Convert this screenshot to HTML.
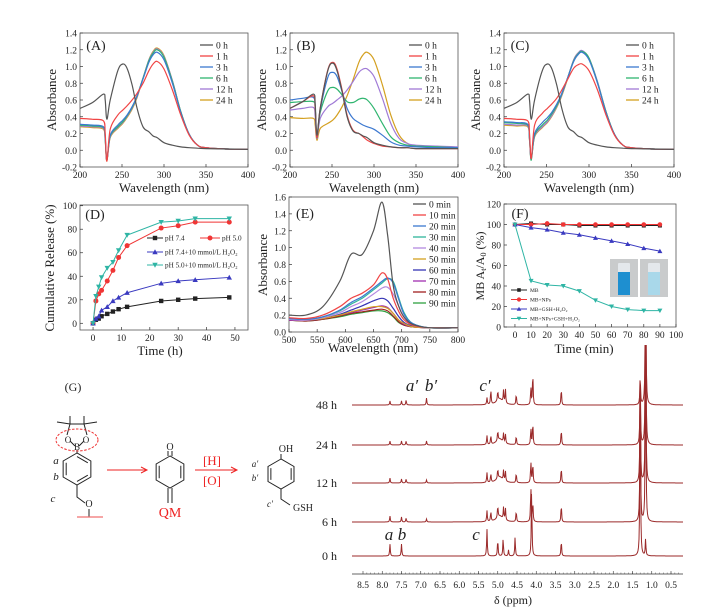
<!DOCTYPE html>
<html><head><meta charset="utf-8"><style>
html,body{margin:0;padding:0;background:#fff;}
svg{display:block;font-family:"Liberation Serif",serif;}
</style></head><body>
<svg id="fig" width="723" height="616" viewBox="0 0 723 616"></svg>
<script>
// ---- Panel A/B/C data ----
const wlABC=[200,215,228,230,232,236,245,251,256,262,268,275,282,287,292,300,310,320,330,340,350,375,400];
const seriesLabelsABC=['0 h','1 h','3 h','6 h','12 h','24 h'];
const colorsABC=['#555555','#f04545','#3c78d0','#2fb56f','#a07ad6','#d4a020'];
const absA0=[0.50,0.57,0.67,0.60,0.37,0.60,0.95,1.03,0.98,0.78,0.50,0.28,0.22,0.17,0.15,0.09,0.06,0.04,0.03,0.025,0.02,0.015,0.01];
const absA1=[0.38,0.37,0.35,0.2,-0.13,0.25,0.42,0.48,0.53,0.6,0.68,0.8,0.95,1.03,1.06,0.97,0.72,0.42,0.18,0.06,0.03,0.015,0.01];
const absA3=[0.31,0.3,0.28,0.15,-0.12,0.18,0.3,0.36,0.42,0.52,0.65,0.85,1.05,1.14,1.17,1.08,0.8,0.45,0.19,0.06,0.03,0.015,0.01];
const absA6=[0.3,0.29,0.27,0.14,-0.12,0.17,0.28,0.34,0.41,0.51,0.65,0.86,1.07,1.16,1.2,1.11,0.82,0.46,0.19,0.06,0.03,0.015,0.01];
const absA12=[0.29,0.28,0.26,0.13,-0.12,0.16,0.27,0.33,0.4,0.5,0.64,0.86,1.08,1.17,1.21,1.12,0.83,0.46,0.19,0.06,0.03,0.015,0.01];
const absA24=[0.28,0.27,0.25,0.12,-0.13,0.15,0.26,0.32,0.39,0.49,0.63,0.86,1.08,1.18,1.22,1.13,0.83,0.46,0.19,0.06,0.03,0.015,0.01];
const absB0=[0.5,0.58,0.67,0.55,0.18,0.5,0.95,1.04,0.95,0.7,0.4,0.23,0.2,0.17,0.15,0.09,0.06,0.04,0.03,0.03,0.02,0.02,0.02];
const absB1=[0.5,0.58,0.65,0.5,0.15,0.5,0.96,1.05,0.97,0.72,0.42,0.24,0.2,0.16,0.12,0.08,0.05,0.04,0.03,0.03,0.02,0.02,0.02];
const absB3=[0.6,0.62,0.63,0.5,0.15,0.48,0.87,0.93,0.88,0.7,0.5,0.38,0.33,0.3,0.28,0.25,0.18,0.1,0.06,0.05,0.04,0.03,0.03];
const absB6=[0.57,0.58,0.58,0.5,0.15,0.45,0.71,0.75,0.73,0.66,0.58,0.57,0.61,0.62,0.6,0.5,0.32,0.16,0.09,0.06,0.05,0.04,0.03];
const absB12=[0.48,0.5,0.51,0.4,0.14,0.38,0.52,0.56,0.6,0.65,0.72,0.82,0.93,0.97,0.97,0.88,0.62,0.32,0.14,0.08,0.06,0.05,0.04];
const absB24=[0.39,0.38,0.38,0.3,0.12,0.26,0.32,0.36,0.42,0.52,0.65,0.84,1.05,1.14,1.17,1.08,0.78,0.42,0.18,0.08,0.05,0.04,0.03];
const absC0=[0.50,0.57,0.67,0.60,0.37,0.60,0.95,1.03,0.98,0.78,0.50,0.28,0.22,0.17,0.15,0.09,0.06,0.04,0.03,0.025,0.02,0.015,0.01];
const absC1=[0.38,0.37,0.35,0.2,-0.1,0.3,0.44,0.5,0.55,0.62,0.72,0.85,0.98,1.02,1.03,0.95,0.72,0.42,0.18,0.06,0.03,0.015,0.01];
const absC3=[0.34,0.33,0.31,0.15,-0.1,0.2,0.33,0.39,0.45,0.55,0.68,0.87,1.06,1.14,1.17,1.08,0.8,0.45,0.19,0.06,0.03,0.015,0.01];
const absC6=[0.33,0.32,0.3,0.14,-0.12,0.18,0.3,0.36,0.43,0.53,0.67,0.87,1.07,1.15,1.18,1.1,0.81,0.46,0.19,0.06,0.03,0.015,0.01];
const absC12=[0.31,0.3,0.29,0.13,-0.1,0.17,0.28,0.34,0.41,0.52,0.66,0.87,1.08,1.16,1.19,1.1,0.82,0.46,0.19,0.06,0.03,0.015,0.01];
const absC24=[0.3,0.29,0.28,0.12,-0.1,0.16,0.27,0.33,0.4,0.51,0.65,0.86,1.08,1.16,1.18,1.1,0.81,0.46,0.19,0.06,0.03,0.015,0.01];
// ---- Panel D data ----
const timeD=[0,1,2,3,5,7,9,12,24,30,36,48];
const labelsD=['pH 7.4','pH 5.0','pH 7.4+10 mmol/L H₂O₂','pH 5.0+10 mmol/L H₂O₂'];
const relPH74=[0,3,4,6,8,10,12,14,19,20,21,22];
const relPH50=[0,19,25,28,36,45,56,66,81,83,86,86];
const relPH74H=[0,4,6,11,14,19,22,26,34,36,37,39];
const relPH50H=[0,23,31,39,47,52,62,75,86,87,89,89];
// ---- Panel E data ----
const wlE=[500,530,560,590,610,630,650,665,675,685,695,705,720,750,800];
const labelsE=['0 min','10 min','20 min','30 min','40 min','50 min','60 min','70 min','80 min','90 min'];
const colorsE=['#555555','#f04545','#3c78d0','#2fb59a','#b48ae0','#d4a020','#3535b5','#a030b0','#a02020','#30a040'];
const absE0=[0.2,0.2,0.3,0.6,0.92,0.92,1.2,1.54,1.15,0.55,0.3,0.17,0.09,0.05,0.05];
const absE10=[0.17,0.16,0.2,0.3,0.4,0.46,0.56,0.7,0.63,0.4,0.24,0.14,0.08,0.05,0.05];
const absE20=[0.16,0.15,0.18,0.26,0.35,0.42,0.52,0.6,0.64,0.58,0.38,0.2,0.1,0.05,0.05];
const absE30=[0.16,0.15,0.18,0.25,0.33,0.4,0.5,0.58,0.63,0.6,0.4,0.22,0.1,0.05,0.05];
const absE40=[0.15,0.14,0.17,0.23,0.3,0.36,0.45,0.52,0.53,0.45,0.3,0.17,0.08,0.05,0.05];
const absE50=[0.15,0.14,0.16,0.2,0.24,0.27,0.3,0.3,0.28,0.22,0.14,0.1,0.06,0.05,0.05];
const absE60=[0.15,0.14,0.16,0.21,0.26,0.31,0.37,0.4,0.37,0.28,0.18,0.11,0.07,0.05,0.05];
const absE70=[0.14,0.14,0.16,0.2,0.23,0.26,0.29,0.31,0.29,0.22,0.14,0.09,0.06,0.05,0.05];
const absE80=[0.14,0.13,0.15,0.19,0.22,0.24,0.26,0.27,0.25,0.19,0.12,0.08,0.06,0.05,0.05];
const absE90=[0.14,0.13,0.15,0.18,0.21,0.23,0.25,0.25,0.23,0.18,0.11,0.08,0.06,0.05,0.05];
// ---- Panel F data ----
const timeF=[0,10,20,30,40,50,60,70,80,90];
const labelsF=['MB','MB+NPs','MB+GSH+H₂O₂','MB+NPs+GSH+H₂O₂'];
const ratioMB=[100,101,100,100,99,99,99,99,99,99];
const ratioMBNP=[100,100,101,100,100,100,100,100,100,100];
const ratioMBGSH=[100,97,95,92,90,87,84,81,77,74];
const ratioMBNPGSH=[100,45,41,40,35,26,20,17,16,16];
// ---- NMR data ----
const nmrTimes=['0 h','6 h','12 h','24 h','48 h'];
const shifts0=[7.8,7.5,5.28,5.0,4.86,4.72,4.55,4.12,3.35,1.3,1.16];
const heights0=[12,12,27,17,18,6,19,69,16,180,17];
const shiftsT=[7.8,7.5,7.38,6.85,5.28,5.18,5.0,4.85,4.8,4.52,4.14,4.09,3.35,1.3,1.16];
const heights6=[6,5,4,3,11,10,12,12,12,11,36,20,18,140,200];
const heights12=[5,4,4,3,10,9,10,10,10,10,22,20,16,110,200];
const heights24=[4,4,4,4,9,9,10,9,9,9,17,23,16,70,200];
const heights48=[4,4,5,7,7,15,10,12,14,11,18,33,17,30,200];
const ppmTicks=[8.5,8.0,7.5,7.0,6.5,6.0,5.5,5.0,4.5,4.0,3.5,3.0,2.5,2.0,1.5,1.0,0.5];

const NS='http://www.w3.org/2000/svg';
const svg=document.getElementById('fig');
function mk(tag,attrs,parent){const e=document.createElementNS(NS,tag);for(const k in attrs)e.setAttribute(k,attrs[k]);(parent||svg).appendChild(e);return e;}
function txt(s,x,y,size,anchor,extra){const e=mk('text',Object.assign({x:x,y:y,'font-size':size,'text-anchor':anchor||'start',fill:'#222'},extra||{}));e.textContent=s;return e;}
function smooth(pts){let d='M'+pts[0][0].toFixed(1)+','+pts[0][1].toFixed(1);for(let i=0;i<pts.length-1;i++){const p0=pts[Math.max(i-1,0)],p1=pts[i],p2=pts[i+1],p3=pts[Math.min(i+2,pts.length-1)];const c1x=p1[0]+(p2[0]-p0[0])/6,c1y=p1[1]+(p2[1]-p0[1])/6,c2x=p2[0]-(p3[0]-p1[0])/6,c2y=p2[1]-(p3[1]-p1[1])/6;d+=' C'+c1x.toFixed(1)+','+c1y.toFixed(1)+' '+c2x.toFixed(1)+','+c2y.toFixed(1)+' '+p2[0].toFixed(1)+','+p2[1].toFixed(1);}return d;}
function axes(o){
  const sx=v=>o.x0+(v-o.xmin)/(o.xmax-o.xmin)*(o.x1-o.x0);
  const sy=v=>o.y1-(v-o.ymin)/(o.ymax-o.ymin)*(o.y1-o.y0);
  const box=mk('rect',{x:o.x0,y:o.y0,width:o.x1-o.x0,height:o.y1-o.y0,fill:'none',stroke:'#555','stroke-width':0.8});
  
  
  o.xt.forEach(v=>{const x=sx(v);mk('line',{x1:x,x2:x,y1:o.y1,y2:o.y1-3,stroke:'#333','stroke-width':0.7});
    const t=txt(o.xf?o.xf(v):String(v),x,o.y1+11,o.fs||9.5,'middle');
    
    });
  o.yt.forEach(v=>{const y=sy(v);mk('line',{x1:o.x0,x2:o.x0+3,y1:y,y2:y,stroke:'#333','stroke-width':0.7});
    const t=txt(o.yf?o.yf(v):String(v),o.x0-3,y+3.5,9.5,'end');
    
    });
  return {sx,sy};
}
function title(s,x,y,size,rot,name){const t=txt(s,x,y,size,'middle',rot?{transform:'rotate(-90 '+x+' '+y+')'}:{});
  
  return t;}

// ---------- Panels A,B,C ----------
const abcSets=[
 {name:'panel-a',lab:'(A)',x0:80,x1:248,lx:200,data:[absA0,absA1,absA3,absA6,absA12,absA24]},
 {name:'panel-b',lab:'(B)',x0:290,x1:458,lx:409,data:[absB0,absB1,absB3,absB6,absB12,absB24]},
 {name:'panel-c',lab:'(C)',x0:504,x1:674,lx:626,data:[absC0,absC1,absC3,absC6,absC12,absC24]}];
abcSets.forEach(P=>{
  const {sx,sy}=axes({name:P.name,x0:P.x0,x1:P.x1,y0:33,y1:167,xmin:200,xmax:400,ymin:-0.2,ymax:1.4,xt:[200,250,300,350,400],yt:[-0.2,0,0.2,0.4,0.6,0.8,1.0,1.2,1.4],yf:v=>v.toFixed(1)});
  [5,4,3,2,1,0].forEach(i=>{const pts=wlABC.map((w,k)=>[sx(w),sy(P.data[i][k])]);
    const p=mk('path',{d:smooth(pts),fill:'none',stroke:colorsABC[i],'stroke-width':1.2});
    
    });
  seriesLabelsABC.forEach((s,i)=>{const y=45+i*11;mk('line',{x1:P.lx,x2:P.lx+13,y1:y,y2:y,stroke:colorsABC[i],'stroke-width':1.3});
    const t=txt(s,P.lx+16,y+3.5,9.5,'start');
    
    });
  title(P.lab,P.x0+16,50,14,false,P.name+'-label');
  title('Wavelength (nm)',(P.x0+P.x1)/2,192,13,false,P.name+'-x-axis-title');
  title('Absorbance',P.x0-24,100,13,true,P.name+'-y-axis-title');
});

function marker(kind,x,y,c,r){r=r||2.2;
  if(kind==='sq')return mk('rect',{x:x-r,y:y-r,width:2*r,height:2*r,fill:c});
  if(kind==='ci')return mk('circle',{cx:x,cy:y,r:r+0.3,fill:c});
  if(kind==='tu')return mk('path',{d:`M${x},${y-r-0.5}L${x+r+0.5},${y+r}L${x-r-0.5},${y+r}Z`,fill:c});
  return mk('path',{d:`M${x},${y+r+0.5}L${x+r+0.5},${y-r}L${x-r-0.5},${y-r}Z`,fill:c});}

// ---------- Panel D ----------
(function(){
  const {sx,sy}=axes({name:'panel-d',x0:80,x1:248,y0:205,y1:330,xmin:-4.6,xmax:54.6,ymin:-5.7,ymax:100.6,xt:[0,10,20,30,40,50],yt:[0,20,40,60,80,100]});
  const sets=[[relPH74,'#222','sq'],[relPH50,'#f03535','ci'],[relPH74H,'#3a3ac0','tu'],[relPH50H,'#2fb5a5','td']];
  sets.forEach((S,si)=>{const pts=timeD.map((t,k)=>[sx(t),sy(S[0][k])]);
    const l=mk('polyline',{points:pts.map(p=>p.join(',')).join(' '),fill:'none',stroke:S[1],'stroke-width':1});
    
    
    pts.forEach(p=>{const m=marker(S[2],p[0],p[1],S[1]);
      
      });});
  const leg=[[147,238,0,16],[200,238,1,20],[147,252,2,16],[147,265,3,16]];
  leg.forEach(L=>{const S=sets[L[2]];const w=L[3];mk('line',{x1:L[0],x2:L[0]+w,y1:L[1],y2:L[1],stroke:S[1],'stroke-width':1});marker(S[2],L[0]+w/2,L[1],S[1]);
    const t=txt(labelsD[L[2]],L[0]+w+2,L[1]+2.5,7.2,'start');
    
    });
  title('(D)',95,219,14,false,'panel-d-label');
  title('Time (h)',160,355,13,false,'panel-d-x-axis-title');
  title('Cumulative Release (%)',54,268,13,true,'panel-d-y-axis-title');
})();

// ---------- Panel E ----------
(function(){
  const {sx,sy}=axes({name:'panel-e',x0:289,x1:458,y0:197,y1:332,xmin:500,xmax:800,ymin:0,ymax:1.6,xt:[500,550,600,650,700,750,800],yt:[0,0.2,0.4,0.6,0.8,1.0,1.2,1.4,1.6],yf:v=>v.toFixed(1)});
  const data=[absE0,absE10,absE20,absE30,absE40,absE50,absE60,absE70,absE80,absE90];
  for(let i=data.length-1;i>=0;i--){const pts=wlE.map((w,k)=>[sx(w),sy(data[i][k])]);
    const p=mk('path',{d:smooth(pts),fill:'none',stroke:colorsE[i],'stroke-width':1.2});
    
    }
  labelsE.forEach((s,i)=>{const y=204+i*11;mk('line',{x1:413,x2:426,y1:y,y2:y,stroke:colorsE[i],'stroke-width':1.3});
    const t=txt(s,429,y+3.5,9.5,'start');
    
    });
  title('(E)',305,218,14,false,'panel-e-label');
  title('Wavelength (nm)',373,352,13,false,'panel-e-x-axis-title');
  title('Absorbance',267,265,13,true,'panel-e-y-axis-title');
})();

// ---------- Panel F ----------
(function(){
  const {sx,sy}=axes({name:'panel-f',x0:504,x1:676,y0:204,y1:327,xmin:-6.8,xmax:100,ymin:0,ymax:120,xt:[0,10,20,30,40,50,60,70,80,90,100],yt:[0,20,40,60,80,100,120]});
  const sets=[[ratioMB,'#222','sq'],[ratioMBNP,'#f03535','ci'],[ratioMBGSH,'#3a3ac0','tu'],[ratioMBNPGSH,'#2fb5a5','td']];
  sets.forEach((S,si)=>{const pts=timeF.map((t,k)=>[sx(t),sy(S[0][k])]);
    const l=mk('polyline',{points:pts.map(p=>p.join(',')).join(' '),fill:'none',stroke:S[1],'stroke-width':1});
    
    
    pts.forEach(p=>{const m=marker(S[2],p[0],p[1],S[1],2);
      
      });});
  sets.forEach((S,i)=>{const y=290+i*9.5;mk('line',{x1:511,x2:527,y1:y,y2:y,stroke:S[1],'stroke-width':1});marker(S[2],519,y,S[1],1.8);
    const t=txt(labelsF[i],530,y+2,5.5,'start');
    
    });
  [[610,'#1e8fd0'],[640,'#a9d8ea']].forEach((P,i)=>{
    const g=mk('g',{});
    
    
    mk('rect',{x:P[0],y:259,width:28,height:38,fill:'#c9cbcc'},g);
    mk('rect',{x:P[0]+8,y:263,width:12,height:32,fill:'#e4e8ec',rx:1},g);
    mk('rect',{x:P[0]+8,y:272,width:12,height:23,fill:P[1]},g);});
  title('(F)',520,218,14,false,'panel-f-label');
  title('Time (min)',584,353,13,false,'panel-f-x-axis-title');
  const yt=txt('',484,266,12,'middle',{transform:'rotate(-90 484 266)'});
  yt.innerHTML='MB A<tspan font-size="8" dy="2">t</tspan><tspan dy="-2">/A</tspan><tspan font-size="8" dy="2">0</tspan><tspan dy="-2"> (%)</tspan>';
  
  
})();

// ---------- NMR ----------
(function(){
  const x0=352,x1=683;
  const px=p=>363+(8.5-p)*38.5;
  const clip=mk('clipPath',{id:'nmrclip'});mk('rect',{x:x0,y:345,width:x1-x0,height:240},clip);
  const baselines=[556,522,483,445,405];
  const hs=[heights0,heights6,heights12,heights24,heights48];
  baselines.forEach((b,r)=>{
    const sh=r===0?shifts0:shiftsT;const h=hs[r];
    let d='';
    for(let x=x0;x<=x1;x+=0.5){const p=8.5-(x-363)/38.5;let v=0;
      sh.forEach((s,k)=>{const w=0.01;v+=h[k]/(1+Math.pow((p-s)/w,2));});
      if(r>0){v+=6/(1+Math.pow((p-4.95)/0.1,2));}
      d+=(x===x0?'M':'L')+x.toFixed(1)+','+(b-v).toFixed(1);}
    const path=mk('path',{d:d,fill:'none',stroke:'#9b2a2a','stroke-width':1,'clip-path':'url(#nmrclip)'});
    
    
    const t=txt(nmrTimes[r],337,b+4,12,'end');
    
    
  });
  const ax=mk('line',{x1:x0,x2:x1,y1:574,y2:574,stroke:'#333','stroke-width':0.8});
  
  
  ppmTicks.forEach(p=>{const x=px(p);mk('line',{x1:x,x2:x,y1:574,y2:571,stroke:'#333','stroke-width':0.6});
    const t=txt(p.toFixed(1),x,588,9.5,'middle');
    
    });
  for(let p=8.4;p>0.3;p-=0.1){const x=px(p);mk('line',{x1:x,x2:x,y1:574,y2:572.5,stroke:'#333','stroke-width':0.4});}
  title('δ (ppm)',513,604,12,false,'nmr-x-axis-title');
  [['a′',412,391],['b′',431,391],['c′',485,391],['a',389,540],['b',402,540],['c',476,540]].forEach(L=>{
    const t=txt(L[0],L[1],L[2],17,'middle',{'font-style':'italic'});
    
    });
})();

// ---------- Structure G ----------
(function(){
  const g=mk('g',{stroke:'#222','stroke-width':1,fill:'none'});
  
  
  function hex(cx,cy,r,inner){let pts=[];for(let i=0;i<6;i++){const a=Math.PI/2+i*Math.PI/3;pts.push([cx+r*Math.cos(a),cy-r*Math.sin(a)]);}
    mk('polygon',{points:pts.map(p=>p.join(',')).join(' ')},g);
    (inner||[]).forEach(k=>{const a=pts[k],b=pts[(k+1)%6];const f=0.78;mk('line',{x1:cx+(a[0]-cx)*f,y1:cy+(a[1]-cy)*f,x2:cx+(b[0]-cx)*f,y2:cy+(b[1]-cy)*f},g);});}
  title('(G)',73,391,12,false,'panel-g-label');
  mk('path',{d:'M57,422 L70,424 L84,424 L97,422 M70,416 L70,424 M84,416 L84,424 M70,424 L67,435 M84,424 L87,435 M70,441 L75,446 M84,441 L79,446 M77,450 L77,453'},g);
  txt('O',68,443,9,'middle');txt('O',86,443,9,'middle');txt('B',77,450,9,'middle');
  mk('ellipse',{cx:77,cy:440,rx:21,ry:11,fill:'none',stroke:'#e33','stroke-dasharray':'2.5,1.5'});
  hex(77,469,16,[1,3,5]);
  mk('path',{d:'M77,485 L77,497 L85,503'},g);
  txt('O',89,507,10,'middle');
  mk('line',{x1:89,y1:509,x2:89,y2:517},g);
  mk('line',{x1:77,y1:517,x2:103,y2:517,stroke:'#f07070','stroke-width':1.2});
  txt('a',56,464,11,'middle',{'font-style':'italic'});txt('b',56,480,11,'middle',{'font-style':'italic'});txt('c',53,502,11,'middle',{'font-style':'italic'});
  mk('path',{d:'M107,470 L146,470 M141,467 L147,470 L141,473',stroke:'#e22',fill:'none'});
  hex(170,472,16,[1,4]);
  mk('path',{d:'M168,456 L168,451 M172,456 L172,451 M168,488 L168,503 M172,488 L172,503'},g);
  txt('O',170,450,10,'middle');
  txt('QM',170,517,14,'middle',{fill:'#e22'});
  mk('path',{d:'M195,470 L236,470 M231,467 L237,470 L231,473',stroke:'#e22',fill:'none'});
  txt('[H]',212,465,13,'middle',{fill:'#e22'});txt('[O]',212,485,13,'middle',{fill:'#e22'});
  hex(281,474,15,[1,4]);
  mk('path',{d:'M281,459 L281,454 M281,489 L281,499 L290,505'},g);
  txt('OH',286,452,10,'middle');
  txt('GSH',303,511,10,'middle');
  txt('a′',255,467,9,'middle',{'font-style':'italic'});txt('b′',255,481,9,'middle',{'font-style':'italic'});txt('c′',270,507,9,'middle',{'font-style':'italic'});
})();
</script>
</body></html>
